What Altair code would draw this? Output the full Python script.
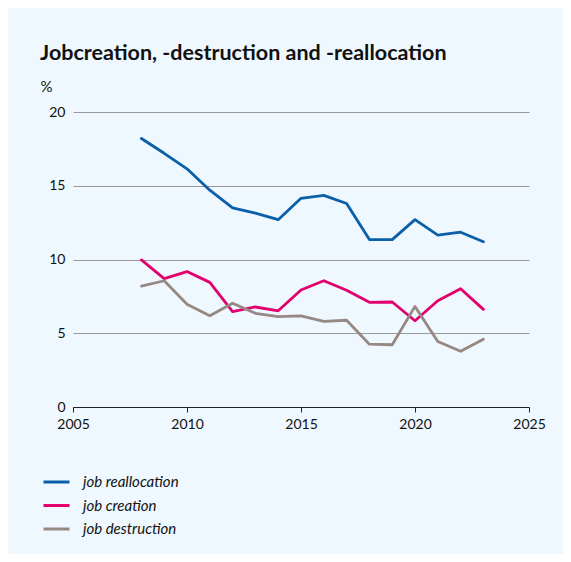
import altair as alt
import pandas as pd

years = list(range(2008, 2024))
reallocation = [18.2, 17.2, 16.15, 14.7, 13.5, 13.15, 12.7, 14.15, 14.35, 13.8, 11.35, 11.35, 12.7, 11.65, 11.85, 11.2]
creation = [9.97, 8.7, 9.18, 8.45, 6.47, 6.78, 6.52, 7.93, 8.56, 7.91, 7.1, 7.12, 5.85, 7.2, 8.02, 6.62]
destruction = [8.2, 8.56, 6.97, 6.18, 7.03, 6.35, 6.13, 6.18, 5.8, 5.88, 4.26, 4.22, 6.82, 4.44, 3.78, 4.6]

series_names = ["job reallocation", "job creation", "job destruction"]
series_colors = ["#0a5fa8", "#e2006c", "#968883"]

rows = []
for name, vals in zip(series_names, [reallocation, creation, destruction]):
    for yr, v in zip(years, vals):
        rows.append({"year": yr, "value": v, "series": name})
df = pd.DataFrame(rows)

FONT = "Lato"

chart = alt.Chart(df).mark_line(strokeWidth=2.8, strokeJoin="round", strokeCap="round").encode(
    x=alt.X("year:Q", scale=alt.Scale(domain=[2005, 2025], nice=False, zero=False),
            axis=alt.Axis(values=[2005, 2010, 2015, 2020, 2025], format="d", title=None,
                          grid=False, domain=True, domainColor="#222222", domainWidth=1,
                          ticks=True, tickColor="#222222", tickSize=5,
                          labelFont=FONT, labelFontSize=14, labelColor="#111111",
                          labelPadding=5, labelFlush=False)),
    y=alt.Y("value:Q", scale=alt.Scale(domain=[0, 20], nice=False),
            axis=alt.Axis(values=[0, 5, 10, 15, 20], title="%", titleAngle=0, titleAlign="left",
                          titleX=-33, titleY=-21, titleBaseline="alphabetic",
                          titleFont=FONT, titleFontSize=15, titleFontWeight="normal", titleColor="#111111",
                          grid=True, gridColor="#9a9a9a", gridWidth=1,
                          domain=False, ticks=False,
                          labelFont=FONT, labelFontSize=14, labelColor="#111111", labelPadding=8)),
    color=alt.Color("series:N", scale=alt.Scale(domain=series_names, range=series_colors),
                    sort=series_names,
                    legend=alt.Legend(title=None, orient="none", legendX=-31, legendY=361,
                                      symbolType="stroke", symbolSize=676, symbolStrokeWidth=3,
                                      clipHeight=18, rowPadding=5.5, labelOffset=12,
                                      labelFont=FONT, labelFontSize=15, labelFontStyle="italic",
                                      labelColor="#111111")),
).properties(
    width=456, height=295,
    title=alt.TitleParams("Jobcreation, -destruction and -reallocation", anchor="start", frame="group",
                          dx=-33, offset=15, font=FONT, fontSize=21.5, fontWeight="bold", color="#111111"),
    autosize=alt.AutoSizeParams(type="none"),
    padding={"left": 65, "top": 104, "right": 34, "bottom": 147},
    background="#eef8fe",
).configure_view(stroke=None)

chart.save("out.html", embed_options={"renderer": "svg", "actions": False})
